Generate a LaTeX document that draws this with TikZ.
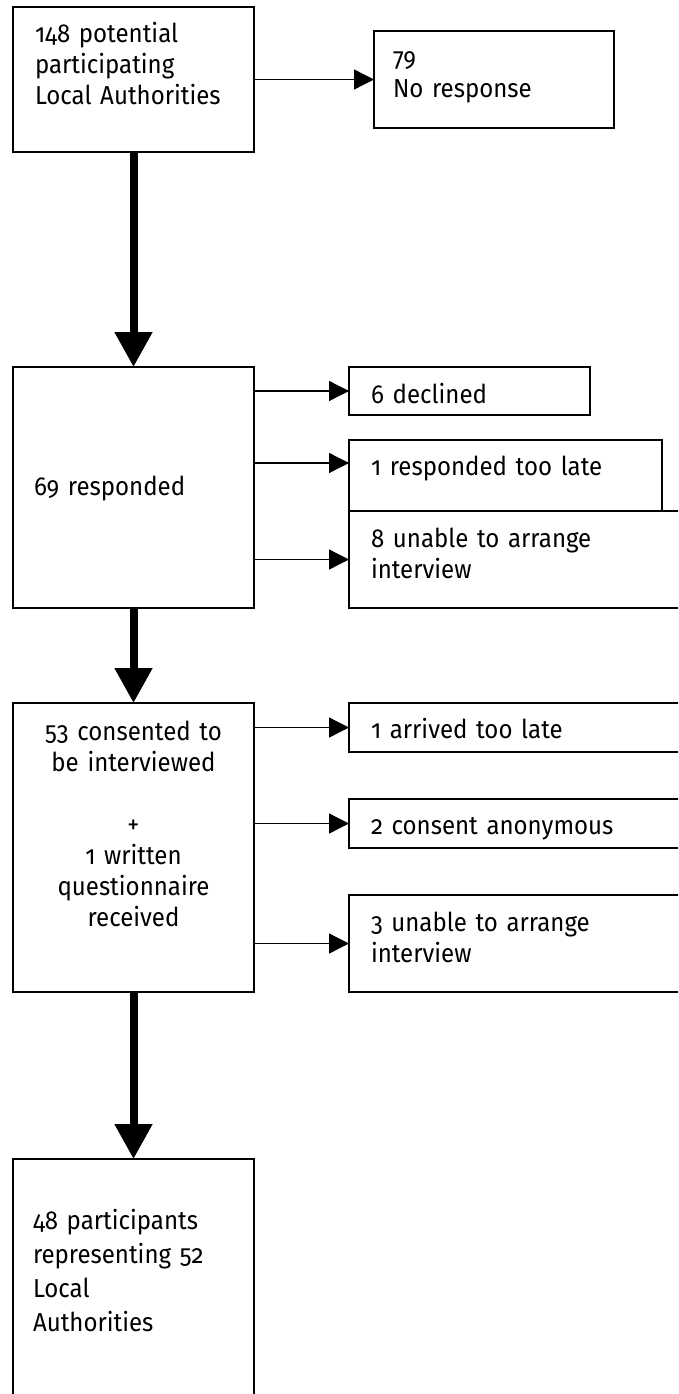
\documentclass[tikz,border=0pt]{standalone}
\usepackage{fontspec}
\setmainfont{Fira Sans}[Numbers=OldStyle,FakeStretch=0.925]
\usetikzlibrary{arrows.meta,calc}
\tikzset{
  boxnode/.style={draw, line width=1.4pt, rectangle, anchor=north west, inner sep=0pt, outer sep=0pt},
  txt/.style={anchor=base west, inner sep=0pt, outer sep=0pt, text width=400pt, align=left,
    font=\fontsize{26}{31}\selectfont},
  ctxt/.style={anchor=base, inner sep=0pt, outer sep=0pt, text width=241pt, align=center,
    font=\fontsize{26}{31}\selectfont},
  thinarrow/.style={line width=1.3pt, -{Triangle[length=20pt,width=20pt]}},
  thickarrow/.style={line width=8pt, -{Triangle[length=35pt,width=36pt]}},
}
\begin{document}
\begin{tikzpicture}[x=1pt,y=-1pt]
\useasboundingbox (0,0) rectangle (678,1394);
\clip (0,0) rectangle (678,1394);
% boxes
\node[boxnode, minimum width=241pt, minimum height=145pt] (b1) at (13,7) {};
\node[boxnode, minimum width=240pt, minimum height=97pt] (bno) at (374,31) {};
\node[boxnode, minimum width=241pt, minimum height=241pt] (b2) at (13,367) {};
\node[boxnode, minimum width=241pt, minimum height=48pt] (bdecl) at (349,367) {};
\node[boxnode, minimum width=313pt, minimum height=71pt] (blate) at (349,440) {};
\node[boxnode, minimum width=400pt, minimum height=97pt] (bunable) at (349,511) {};
\node[boxnode, minimum width=241pt, minimum height=289pt] (b3) at (13,703) {};
\node[boxnode, minimum width=400pt, minimum height=49pt] (barr) at (349,703) {};
\node[boxnode, minimum width=400pt, minimum height=49pt] (banon) at (349,799) {};
\node[boxnode, minimum width=400pt, minimum height=97pt] (bthree) at (349,895) {};
\node[boxnode, minimum width=241pt, minimum height=260pt] (b4) at (13,1159) {};
% texts
\node[txt] (t1) at (35,43) {148 potential\\participating\\Local Authorities};
\node[txt] (tno) at (393,67) {79\\No response};
\node[txt] (t2) at (34,495) {69 responded};
\node[txt] (tdecl) at (371,403) {6 declined};
\node[txt] (tlate) at (371,475) {1 responded too late};
\node[txt] (tunable) at (371,547) {8 unable to arrange\\interview};
\node[ctxt] (t3) at (133.5,740) {53 consented to\\be interviewed\\[31pt]+\\1 written\\questionnaire\\received};
\node[txt] (tarr) at (371,738) {1 arrived too late};
\begin{scope}
\clip (banon.north west) rectangle (banon.south east);
\node[txt] (tanon) at (371,834) {2 consent anonymous};
\end{scope}
\node[txt] (tthree) at (371,931) {3 unable to arrange\\interview};
\node[txt, font=\fontsize{26}{34}\selectfont] (t4) at (33,1229) {48 participants\\representing 52\\Local\\Authorities};
% connectors
\draw[thinarrow] (b1.east) -- (bno.west);
\draw[thinarrow] (b2.east |- bdecl.west) -- (bdecl.west);
\coordinate (plate) at ([yshift=-23pt]blate.north west);
\draw[thinarrow] (b2.east |- plate) -- (plate);
\draw[thinarrow] (b2.east |- bunable.west) -- (bunable.west);
\draw[thinarrow] (b3.east |- barr.west) -- (barr.west);
\draw[thinarrow] (b3.east |- banon.west) -- (banon.west);
\draw[thinarrow] (b3.east |- bthree.west) -- (bthree.west);
\draw[thickarrow] (b1.south) -- (b2.north);
\draw[thickarrow] (b2.south) -- (b3.north);
\draw[thickarrow] (b3.south) -- (b4.north);
\end{tikzpicture}
\end{document}
